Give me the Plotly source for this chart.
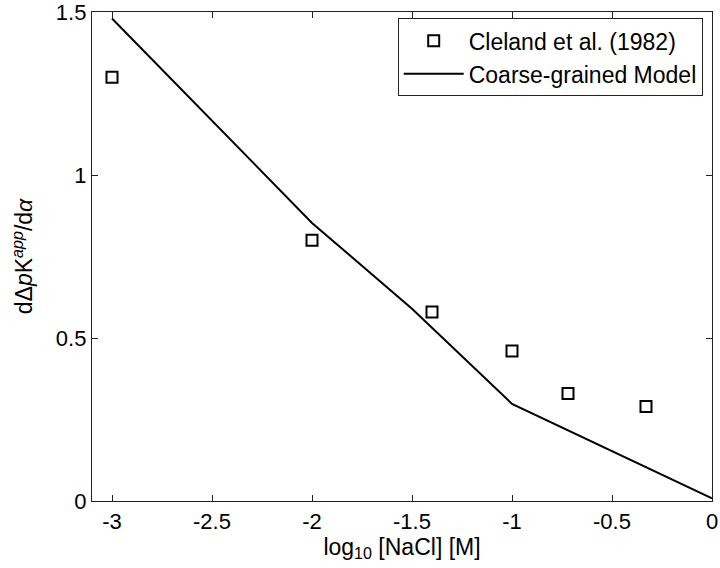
import plotly.graph_objects as go

# Experimental data (Cleland et al. 1982)
exp_x = [-3.0, -2.0, -1.4, -1.0, -0.72, -0.33]
exp_y = [1.30, 0.80, 0.58, 0.46, 0.33, 0.29]

# Coarse-grained model curve
model_x = [-3.0, -2.0, -1.5, -1.0, 0.0]
model_y = [1.48, 0.853, 0.59, 0.298, 0.008]

x_tickvals = [-3, -2.5, -2, -1.5, -1, -0.5, 0]
x_ticktext = ["-3", "-2.5", "-2", "-1.5", "-1", "-0.5", "0"]
y_tickvals = [0, 0.5, 1, 1.5]
y_ticktext = ["0", "0.5", "1", "1.5"]

FONT = "Liberation Sans, Arial, Helvetica, sans-serif"

fig = go.Figure()
fig.add_trace(go.Scatter(
    x=exp_x, y=exp_y, mode="markers", name="Cleland et al. (1982)",
    marker=dict(symbol="square-open", size=11, color="black", line=dict(width=2, color="black")),
))
fig.add_trace(go.Scatter(
    x=model_x, y=model_y, mode="lines", name="Coarse-grained Model",
    line=dict(color="black", width=2),
))

axis_common = dict(
    showline=True, linecolor="#222222", linewidth=1.3, mirror="ticks",
    ticks="inside", ticklen=6, tickcolor="#222222", tickwidth=1,
    showgrid=False, zeroline=False, automargin=False,
    ticklabeloverflow="allow",
    tickfont=dict(family=FONT, size=22, color="black"),
)

fig.update_xaxes(
    range=[-3.1, 0], tickvals=x_tickvals, ticktext=x_ticktext,
    title=dict(text="log<sub>10</sub> [NaCl] [M]", font=dict(family=FONT, size=23, color="black"), standoff=4),
    **axis_common,
)
fig.update_yaxes(
    range=[0, 1.5], tickvals=y_tickvals, ticktext=y_ticktext,
    title=dict(text="dΔ<i>p</i>K<sup><i>app</i></sup>/d<i>α</i>", font=dict(family=FONT, size=23, color="black"), standoff=16),
    **axis_common,
)

fig.update_layout(
    width=720, height=568,
    margin=dict(l=92, r=8, t=12, b=67, autoexpand=False),
    paper_bgcolor="white", plot_bgcolor="white",
    font=dict(family=FONT, size=22, color="black"),
    showlegend=True,
    legend=dict(
        x=0.985, y=0.987, xanchor="right", yanchor="top",
        bordercolor="#222222", borderwidth=1, bgcolor="white",
        font=dict(family=FONT, size=23, color="black"),
        tracegroupgap=0, itemwidth=60,
    ),
)

fig.write_html(
    "out.html",
    config={"displayModeBar": False},
    post_script="document.body.style.margin='0';document.body.style.overflow='hidden';",
)
